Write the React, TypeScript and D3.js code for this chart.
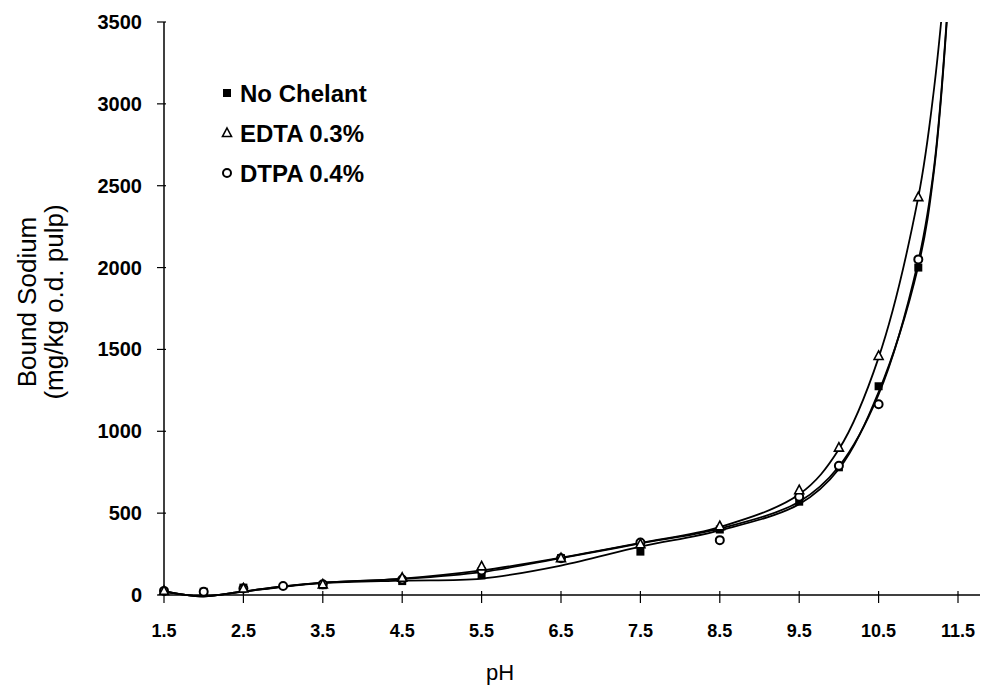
import React from 'react';
import * as d3 from 'd3';

// measured points
const noChelantPH = [2, 2.5, 3.5, 4.5, 5.5, 6.5, 7.5, 8.5, 9.5, 10, 10.5, 11];
const noChelantNa = [20, 45, 60, 85, 120, 225, 265, 400, 570, 780, 1275, 2000];
const edtaPH = [1.5, 2.5, 3.5, 4.5, 5.5, 6.5, 7.5, 8.5, 9.5, 10, 10.5, 11];
const edtaNa = [25, 40, 65, 105, 175, 225, 310, 420, 640, 900, 1460, 2430];
const dtpaPH = [1.5, 2, 2.5, 3, 3.5, 4.5, 5.5, 6.5, 7.5, 8.5, 9.5, 10, 10.5, 11];
const dtpaNa = [25, 20, 40, 55, 65, 95, 150, 225, 320, 335, 600, 790, 1165, 2050];

// fitted curves
const fitPH = [1.5, 1.75, 2, 2.5, 3, 3.5, 4.5, 5.5, 6.5, 7.5, 8.5, 9.5, 10, 10.5, 11, 11.2, 11.4];
const noChelantFit = [22, 2, -8, 20, 50, 72, 88, 100, 180, 295, 395, 555, 770, 1240, 2010, 2600, 3800];
const edtaFit = [22, 2, -8, 22, 52, 75, 100, 150, 228, 318, 415, 615, 890, 1450, 2430, 3100, 4100];
const dtpaFit = [22, 2, -8, 22, 52, 75, 98, 140, 225, 315, 405, 570, 785, 1225, 2040, 2620, 3820];

const xTicks = [1.5, 2.5, 3.5, 4.5, 5.5, 6.5, 7.5, 8.5, 9.5, 10.5, 11.5];
const yTicks = [0, 500, 1000, 1500, 2000, 2500, 3000, 3500];
const legendLabels = ['No Chelant', 'EDTA 0.3%', 'DTPA 0.4%'];

const W = 989;
const H = 687;

const x = d3.scaleLinear().domain([1.5, 11.5]).range([164, 958]);
const y = d3.scaleLinear().domain([0, 3500]).range([595, 22]);

const line = d3.line<[number, number]>()
  .x(d => x(d[0]))
  .y(d => y(d[1]))
  .curve(d3.curveCatmullRom.alpha(0.5));

const font = 'Arial, "Liberation Sans", sans-serif';

const Square = ({ cx, cy }: { cx: number; cy: number }) => (
  <rect x={cx - 4} y={cy - 4} width={8} height={8} fill="#000" />
);
const Triangle = ({ cx, cy }: { cx: number; cy: number }) => (
  <path d={`M${cx},${cy - 5} L${cx + 4.5},${cy + 3.5} L${cx - 4.5},${cy + 3.5} Z`} fill="#fff" stroke="#000" strokeWidth={1.6} />
);
const Circle = ({ cx, cy }: { cx: number; cy: number }) => (
  <circle cx={cx} cy={cy} r={4} fill="#fff" stroke="#000" strokeWidth={2} />
);

export default function App() {
  const fits = [noChelantFit, edtaFit, dtpaFit];
  return (
    <svg width={W} height={H} style={{ position: 'absolute', left: 0, top: 0, background: '#fff' }}>
      <defs>
        <clipPath id="plot">
          <rect x={150} y={y(3500)} width={840} height={620} />
        </clipPath>
      </defs>

      {/* axes */}
      <line x1={x(1.5)} x2={980} y1={y(0)} y2={y(0)} stroke="#000" strokeWidth={1.5} />
      <line x1={x(1.5)} x2={x(1.5)} y1={y(3500)} y2={y(0)} stroke="#000" strokeWidth={1.5} />
      {xTicks.map(t => (
        <g key={t}>
          <line x1={x(t)} x2={x(t)} y1={y(0) - 4} y2={y(0) + 8} stroke="#000" strokeWidth={1.2} />
          <text x={x(t)} y={y(0) + 42} textAnchor="middle" fontFamily={font} fontWeight="bold" fontSize={18}>
            {t.toFixed(1)}
          </text>
        </g>
      ))}
      {yTicks.map(t => (
        <g key={t}>
          <line x1={x(1.5) - 7} x2={x(1.5) + 2} y1={y(t)} y2={y(t)} stroke="#000" strokeWidth={1.2} />
          <text x={142} y={y(t) + 7} textAnchor="end" fontFamily={font} fontWeight="bold" fontSize={20}>
            {t}
          </text>
        </g>
      ))}

      <text x={500} y={680} textAnchor="middle" fontFamily={font} fontSize={22}>pH</text>
      <text transform="translate(36,302) rotate(-90)" textAnchor="middle" fontFamily={font} fontSize={26}>
        Bound Sodium
      </text>
      <text transform="translate(63,302) rotate(-90)" textAnchor="middle" fontFamily={font} fontSize={26}>
        (mg/kg o.d. pulp)
      </text>

      {/* fitted curves */}
      <g clipPath="url(#plot)">
        {fits.map((f, i) => (
          <path key={i} d={line(fitPH.map((p, j) => [p, f[j]] as [number, number])) || ''}
            fill="none" stroke="#000" strokeWidth={1.8} />
        ))}
      </g>

      {/* markers */}
      {noChelantPH.map((p, i) => <Square key={'n' + i} cx={x(p)} cy={y(noChelantNa[i])} />)}
      {dtpaPH.map((p, i) => <Circle key={'d' + i} cx={x(p)} cy={y(dtpaNa[i])} />)}
      {edtaPH.map((p, i) => <Triangle key={'e' + i} cx={x(p)} cy={y(edtaNa[i])} />)}

      {/* legend */}
      <Square cx={227} cy={93} />
      <Triangle cx={227} cy={133} />
      <Circle cx={227} cy={173} />
      {legendLabels.map((l, i) => (
        <text key={l} x={240} y={102 + i * 40} fontFamily={font} fontWeight="bold" fontSize={24}>{l}</text>
      ))}
    </svg>
  );
}
